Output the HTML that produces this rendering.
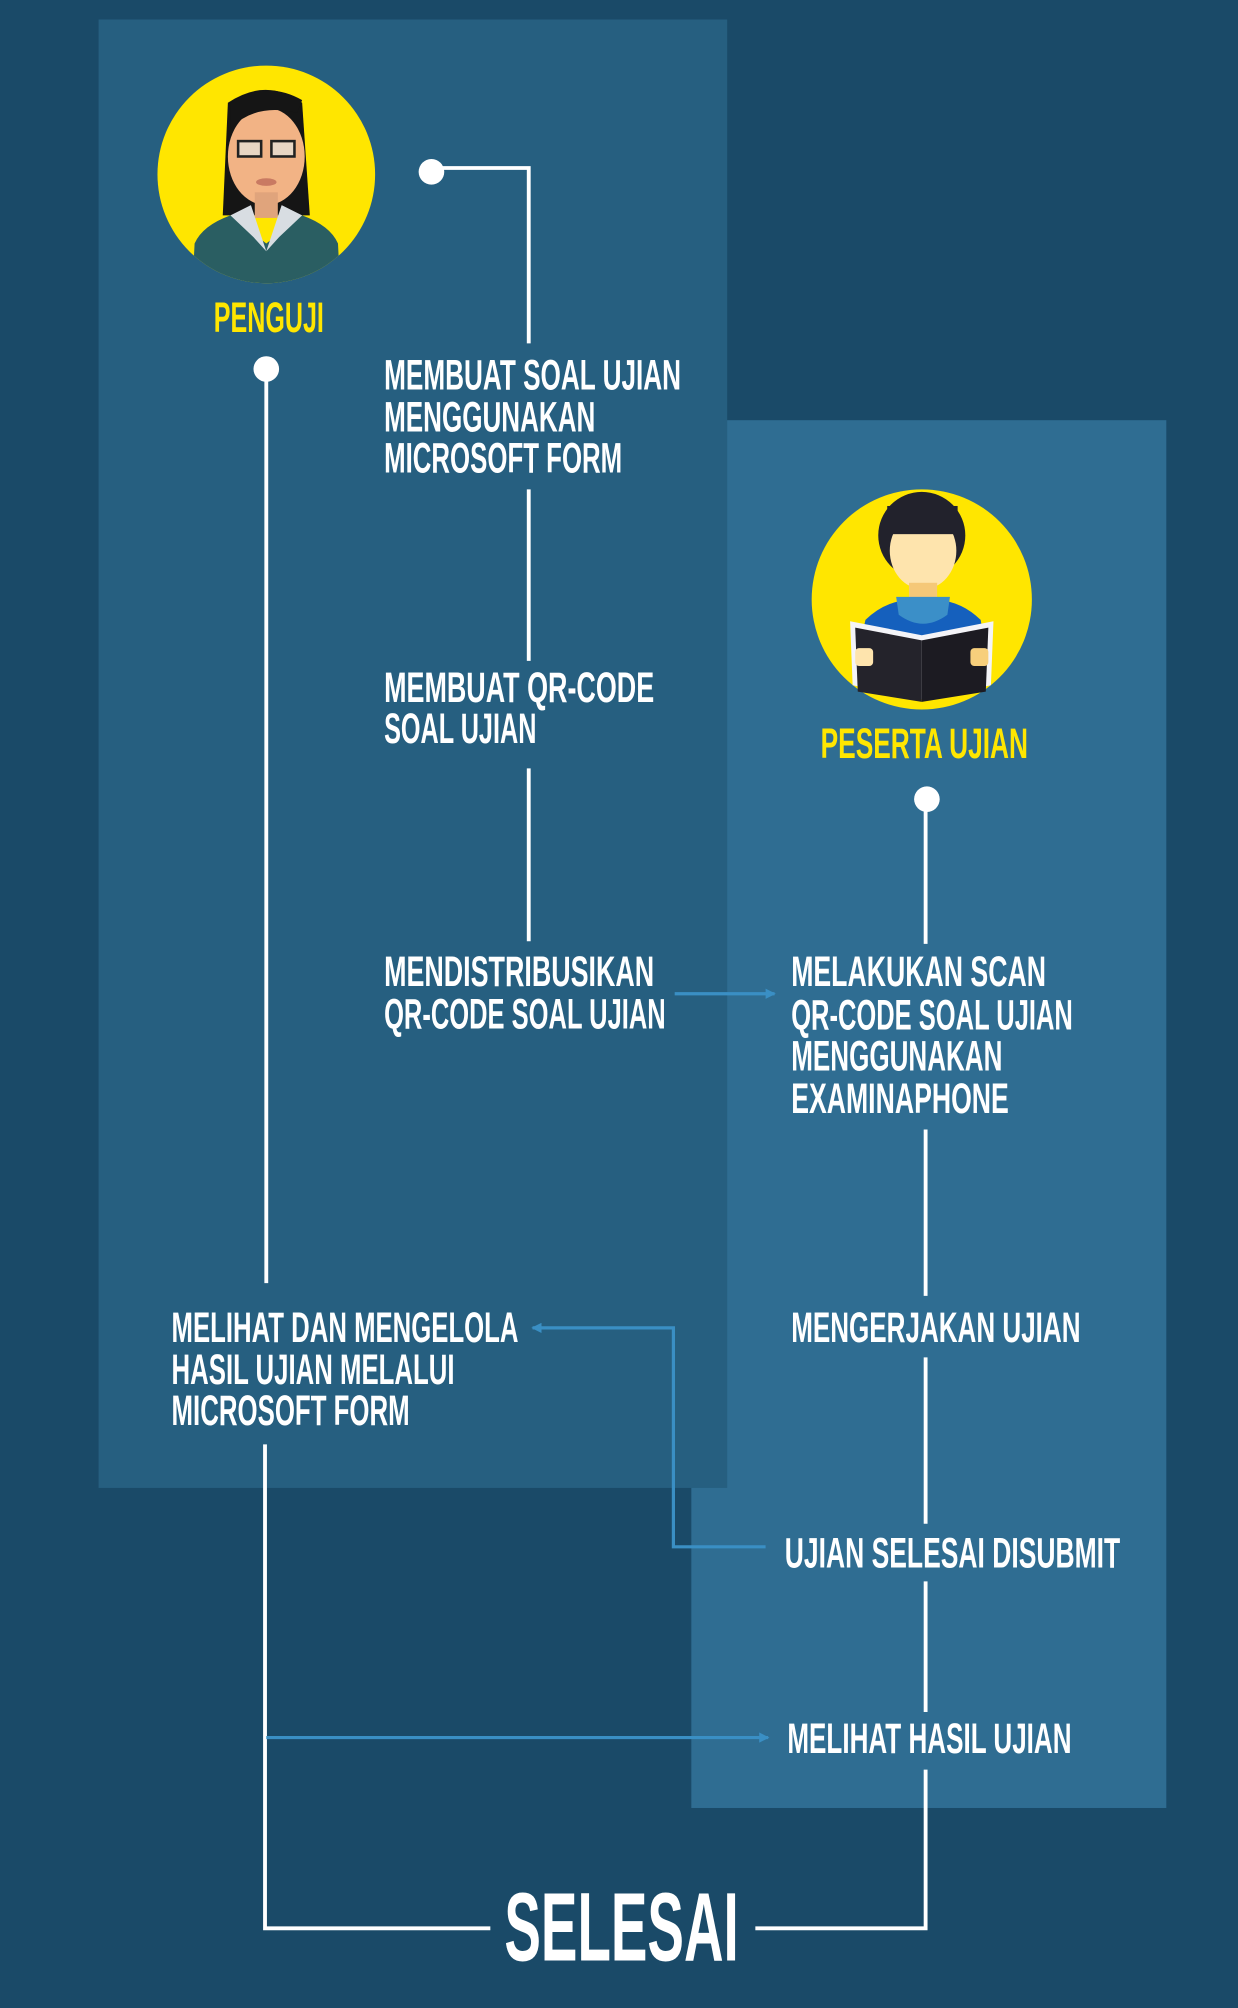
<!DOCTYPE html>
<html><head><meta charset="utf-8"><style>
html,body{margin:0;padding:0;background:#1a4a68;}
svg{display:block}
text{font-family:"Liberation Sans",sans-serif;font-weight:bold;fill:#fff;}
</style></head><body>
<svg width="1238" height="2008" viewBox="0 0 967 1568" xmlns="http://www.w3.org/2000/svg">
<defs>
<marker id="ah" markerWidth="8" markerHeight="8" refX="7" refY="4" orient="auto" markerUnits="userSpaceOnUse"><path d="M0,0 L8,4 L0,8 Z" fill="#3a8fc4"/></marker>
<clipPath id="c1"><circle cx="208" cy="136" r="85"/></clipPath>
</defs>
<rect width="967" height="1568" fill="#1a4a68"/>
<rect x="540" y="328" width="371" height="1084" fill="#2f6d92"/>
<rect x="77" y="15" width="491" height="1147" fill="#265f80"/>

<!-- Penguji avatar -->
<circle cx="208" cy="136" r="85" fill="#ffe600"/>
<g clip-path="url(#c1)">
<path d="M178,80 Q208,60 236,80 L242,168 L174,168 Z" fill="#151515"/>
<ellipse cx="208" cy="122" rx="30" ry="38" fill="#f2b385"/>
<path d="M180,100 Q200,80 232,88 L236,78 Q208,62 180,80 Z" fill="#151515"/>
<rect x="186" y="110" width="18" height="12" fill="#e8d6c4" stroke="#222" stroke-width="2"/>
<rect x="212" y="110" width="18" height="12" fill="#e8d6c4" stroke="#222" stroke-width="2"/>
<ellipse cx="208" cy="142" rx="8" ry="3" fill="#c97a62"/>
<rect x="199" y="150" width="18" height="20" fill="#e0a47c"/>
<path d="M150,230 L152,190 Q158,176 180,168 L208,190 L236,168 Q258,176 264,190 L266,230 Z" fill="#2a5e62"/>
<path d="M180,168 L196,160 L208,196 L220,160 L236,168 L218,185 L208,196 L198,185 Z" fill="#d8dde2"/>
</g>
<text x="167" y="259" font-size="33" textLength="86" lengthAdjust="spacingAndGlyphs" style="fill:#ffe600">PENGUJI</text>

<!-- Student avatar -->
<circle cx="720" cy="468" r="86" fill="#ffe600"/>
<circle cx="720" cy="418" r="34" fill="#22222c"/>
<ellipse cx="721" cy="430" rx="26" ry="30" fill="#fee4ad"/>
<rect x="693" y="395" width="55" height="22" fill="#22222c"/>
<rect x="710" y="455" width="22" height="18" fill="#f5c878"/>
<path d="M668,520 L676,484 Q690,470 710,468 L732,468 Q752,470 766,484 L772,520 Z" fill="#1560bd"/>
<path d="M700,466 L742,466 L740,480 Q721,494 702,480 Z" fill="#3b8fc8"/>
<path d="M664,485 L720,496 L776,485 L774,535 L720,546 L666,535 Z" fill="#f4f4f8"/>
<path d="M668,490 L720,500 L720,548 L670,540 Z" fill="#24232b"/>
<path d="M720,500 L772,490 L770,540 L720,548 Z" fill="#1c1b22"/>
<rect x="668" y="506" width="14" height="14" rx="3" fill="#fee4ad"/>
<rect x="758" y="506" width="14" height="14" rx="3" fill="#f7cf7c"/>
<text x="641" y="592" font-size="33" textLength="162" lengthAdjust="spacingAndGlyphs" style="fill:#ffe600">PESERTA UJIAN</text>

<!-- white connectors -->
<g stroke="#fff" stroke-width="3" fill="none">
<path d="M337,131 H413 V268"/>
<path d="M413,382 V516"/>
<path d="M413,600 V735"/>
<path d="M208,288 V1002"/>
<path d="M207,1128 V1506 H383"/>
<path d="M590,1506 H723 V1382"/>
<path d="M723,624 V737"/>
<path d="M723,882 V1012"/>
<path d="M723,1060 V1190"/>
<path d="M723,1235 V1337"/>
</g>
<circle cx="337" cy="134" r="10" fill="#fff"/>
<circle cx="208" cy="288" r="10" fill="#fff"/>
<circle cx="724" cy="624" r="10" fill="#fff"/>

<!-- blue arrows -->
<g stroke="#3a8fc4" stroke-width="2.5" fill="none">
<path d="M527,776 H605" marker-end="url(#ah)"/>
<path d="M598,1208 H526 V1037 H416" marker-end="url(#ah)"/>
<path d="M208,1357 H600" marker-end="url(#ah)"/>
</g>

<!-- labels -->
<g font-size="33">
<text x="300" y="304" textLength="232" lengthAdjust="spacingAndGlyphs">MEMBUAT SOAL UJIAN</text>
<text x="300" y="337" textLength="165" lengthAdjust="spacingAndGlyphs">MENGGUNAKAN</text>
<text x="300" y="369" textLength="186" lengthAdjust="spacingAndGlyphs">MICROSOFT FORM</text>
<text x="300" y="548" textLength="211" lengthAdjust="spacingAndGlyphs">MEMBUAT QR-CODE</text>
<text x="300" y="580" textLength="119" lengthAdjust="spacingAndGlyphs">SOAL UJIAN</text>
<text x="300" y="770" textLength="211" lengthAdjust="spacingAndGlyphs">MENDISTRIBUSIKAN</text>
<text x="300" y="803" textLength="220" lengthAdjust="spacingAndGlyphs">QR-CODE SOAL UJIAN</text>
<text x="618" y="770" textLength="199" lengthAdjust="spacingAndGlyphs">MELAKUKAN SCAN</text>
<text x="618" y="804" textLength="220" lengthAdjust="spacingAndGlyphs">QR-CODE SOAL UJIAN</text>
<text x="618" y="836" textLength="165" lengthAdjust="spacingAndGlyphs">MENGGUNAKAN</text>
<text x="618" y="869" textLength="170" lengthAdjust="spacingAndGlyphs">EXAMINAPHONE</text>
<text x="618" y="1048" textLength="226" lengthAdjust="spacingAndGlyphs">MENGERJAKAN UJIAN</text>
<text x="613" y="1224" textLength="262" lengthAdjust="spacingAndGlyphs">UJIAN SELESAI DISUBMIT</text>
<text x="615" y="1369" textLength="222" lengthAdjust="spacingAndGlyphs">MELIHAT HASIL UJIAN</text>
<text x="134" y="1048" textLength="271" lengthAdjust="spacingAndGlyphs">MELIHAT DAN MENGELOLA</text>
<text x="134" y="1081" textLength="221" lengthAdjust="spacingAndGlyphs">HASIL UJIAN MELALUI</text>
<text x="134" y="1113" textLength="186" lengthAdjust="spacingAndGlyphs">MICROSOFT FORM</text>
</g>
<text x="394" y="1531" font-size="76" textLength="183" lengthAdjust="spacingAndGlyphs">SELESAI</text>
</svg>
</body></html>
